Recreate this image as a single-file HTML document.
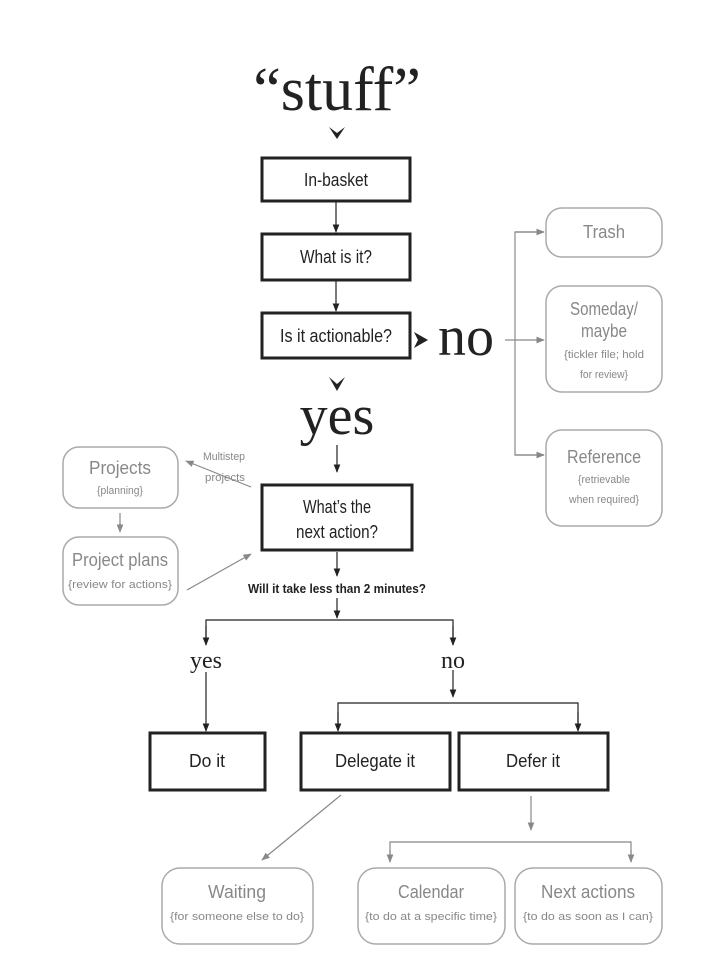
<!DOCTYPE html>
<html><head><meta charset="utf-8"><style>
html,body{margin:0;padding:0;background:#fff}
svg{display:block}
.s{font-family:"Liberation Sans Narrow","Liberation Sans",sans-serif}
.r{font-family:"Liberation Serif",serif}
</style></head><body>
<svg width="708" height="972" viewBox="0 0 708 972" xmlns="http://www.w3.org/2000/svg">
<defs>
<marker id="a" viewBox="0 0 10 10" refX="9" refY="5" markerWidth="7" markerHeight="7" orient="auto"><path d="M0,1 L10,5 L0,9 z" fill="#222"/></marker>
<marker id="g" viewBox="0 0 10 10" refX="9" refY="5" markerWidth="7" markerHeight="7" orient="auto"><path d="M0,1 L10,5 L0,9 z" fill="#888"/></marker>
</defs>
<text x="337" y="110" class="r" font-size="62" text-anchor="middle" fill="#222">“stuff”</text>
<path d="M329,127 L337,133 L345,127 L337,139 z" fill="#222"/>
<g fill="#fff" stroke="#222" stroke-width="3">
<rect x="262" y="158" width="148" height="43"/>
<rect x="262" y="234" width="148" height="46"/>
<rect x="262" y="313" width="148" height="45"/>
<rect x="262" y="485" width="150" height="65"/>
<rect x="150" y="733" width="115" height="57"/>
<rect x="301" y="733" width="149" height="57"/>
<rect x="459" y="733" width="149" height="57"/>
</g>
<g class="s" font-size="18" fill="#222" text-anchor="middle" lengthAdjust="spacingAndGlyphs">
<text x="336" y="186" textLength="64" lengthAdjust="spacingAndGlyphs">In-basket</text>
<text x="336" y="263" textLength="72" lengthAdjust="spacingAndGlyphs">What is it?</text>
<text x="336" y="342" textLength="112" lengthAdjust="spacingAndGlyphs">Is it actionable?</text>
<text x="337" y="513" textLength="68" lengthAdjust="spacingAndGlyphs">What’s the</text>
<text x="337" y="538" textLength="82" lengthAdjust="spacingAndGlyphs">next action?</text>
<text x="207" y="767" textLength="36" lengthAdjust="spacingAndGlyphs">Do it</text>
<text x="375" y="767" textLength="80" lengthAdjust="spacingAndGlyphs">Delegate it</text>
<text x="533" y="767" textLength="54" lengthAdjust="spacingAndGlyphs">Defer it</text>
</g>
<text x="337" y="593" class="s" font-size="13" font-weight="bold" fill="#222" text-anchor="middle" textLength="178" lengthAdjust="spacingAndGlyphs">Will it take less than 2 minutes?</text>
<g stroke="#222" stroke-width="1.2" fill="none">
<line x1="336" y1="201" x2="336" y2="232" marker-end="url(#a)"/>
<line x1="336" y1="280" x2="336" y2="311" marker-end="url(#a)"/>
<line x1="337" y1="445" x2="337" y2="472" marker-end="url(#a)"/>
<line x1="337" y1="552" x2="337" y2="576" marker-end="url(#a)"/>
<line x1="337" y1="598" x2="337" y2="618" marker-end="url(#a)"/>
<polyline points="206,645 206,620 453,620 453,645" />
<line x1="206" y1="626" x2="206" y2="645" marker-end="url(#a)"/>
<line x1="453" y1="626" x2="453" y2="645" marker-end="url(#a)"/>
<line x1="206" y1="672" x2="206" y2="731" marker-end="url(#a)"/>
<line x1="453" y1="670" x2="453" y2="697" marker-end="url(#a)"/>
<polyline points="338,730 338,703 578,703 578,730"/>
<line x1="338" y1="712" x2="338" y2="731" marker-end="url(#a)"/>
<line x1="578" y1="712" x2="578" y2="731" marker-end="url(#a)"/>
</g>
<text x="466" y="355" class="r" font-size="56" fill="#222" text-anchor="middle">no</text>
<path d="M414,332 L428,340 L414,348 L418,340 z" fill="#222"/>
<path d="M329,377 L337,384 L345,377 L337,391 z" fill="#222"/>
<text x="337" y="434" class="r" font-size="56" fill="#222" text-anchor="middle">yes</text>
<text x="206" y="668" class="r" font-size="24" fill="#222" text-anchor="middle">yes</text>
<text x="453" y="668" class="r" font-size="24" fill="#222" text-anchor="middle">no</text>
<g stroke="#888" stroke-width="1.2" fill="none">
<line x1="505" y1="340" x2="515" y2="340"/>
<polyline points="544,232 515,232 515,455 544,455"/>
<line x1="515" y1="232" x2="544" y2="232" marker-end="url(#g)"/>
<line x1="515" y1="340" x2="544" y2="340" marker-end="url(#g)"/>
<line x1="515" y1="455" x2="544" y2="455" marker-end="url(#g)"/>
<line x1="251" y1="487" x2="186" y2="461" marker-end="url(#g)"/>
<line x1="187" y1="590" x2="251" y2="554" marker-end="url(#g)"/>
<line x1="120" y1="513" x2="120" y2="532" marker-end="url(#g)"/>
<line x1="341" y1="795" x2="262" y2="860" marker-end="url(#g)"/>
<line x1="531" y1="796" x2="531" y2="830" marker-end="url(#g)"/>
<polyline points="390,862 390,842 631,842 631,862"/>
<line x1="390" y1="850" x2="390" y2="862" marker-end="url(#g)"/>
<line x1="631" y1="850" x2="631" y2="862" marker-end="url(#g)"/>
</g>
<g fill="#fff" stroke="#aaa" stroke-width="1.5">
<rect x="546" y="208" width="116" height="49" rx="16"/>
<rect x="546" y="286" width="116" height="106" rx="16"/>
<rect x="546" y="430" width="116" height="96" rx="16"/>
<rect x="63" y="447" width="115" height="61" rx="16"/>
<rect x="63" y="537" width="115" height="68" rx="16"/>
<rect x="162" y="868" width="151" height="76" rx="18"/>
<rect x="358" y="868" width="147" height="76" rx="18"/>
<rect x="515" y="868" width="147" height="76" rx="18"/>
</g>
<g class="s" fill="#888" text-anchor="middle">
<text x="604" y="238" font-size="18" textLength="42" lengthAdjust="spacingAndGlyphs">Trash</text>
<text x="604" y="315" font-size="18" textLength="68" lengthAdjust="spacingAndGlyphs">Someday/</text>
<text x="604" y="337" font-size="18" textLength="46" lengthAdjust="spacingAndGlyphs">maybe</text>
<text x="604" y="358" font-size="11" textLength="80" lengthAdjust="spacingAndGlyphs">{tickler file; hold</text>
<text x="604" y="378" font-size="11" textLength="48" lengthAdjust="spacingAndGlyphs">for review}</text>
<text x="604" y="463" font-size="18" textLength="74" lengthAdjust="spacingAndGlyphs">Reference</text>
<text x="604" y="483" font-size="11" textLength="52" lengthAdjust="spacingAndGlyphs">{retrievable</text>
<text x="604" y="503" font-size="11" textLength="70" lengthAdjust="spacingAndGlyphs">when required}</text>
<text x="120" y="474" font-size="18" textLength="62" lengthAdjust="spacingAndGlyphs">Projects</text>
<text x="120" y="494" font-size="11" textLength="46" lengthAdjust="spacingAndGlyphs">{planning}</text>
<text x="120" y="566" font-size="18" textLength="96" lengthAdjust="spacingAndGlyphs">Project plans</text>
<text x="120" y="588" font-size="11" textLength="104" lengthAdjust="spacingAndGlyphs">{review for actions}</text>
<text x="224" y="460" font-size="11" textLength="42" lengthAdjust="spacingAndGlyphs">Multistep</text>
<text x="225" y="481" font-size="11" textLength="40" lengthAdjust="spacingAndGlyphs">projects</text>
<text x="237" y="898" font-size="18" textLength="58" lengthAdjust="spacingAndGlyphs">Waiting</text>
<text x="237" y="920" font-size="11" textLength="134" lengthAdjust="spacingAndGlyphs">{for someone else to do}</text>
<text x="431" y="898" font-size="18" textLength="66" lengthAdjust="spacingAndGlyphs">Calendar</text>
<text x="431" y="920" font-size="11" textLength="132" lengthAdjust="spacingAndGlyphs">{to do at a specific time}</text>
<text x="588" y="898" font-size="18" textLength="94" lengthAdjust="spacingAndGlyphs">Next actions</text>
<text x="588" y="920" font-size="11" textLength="130" lengthAdjust="spacingAndGlyphs">{to do as soon as I can}</text>
</g>
</svg>
</body></html>
